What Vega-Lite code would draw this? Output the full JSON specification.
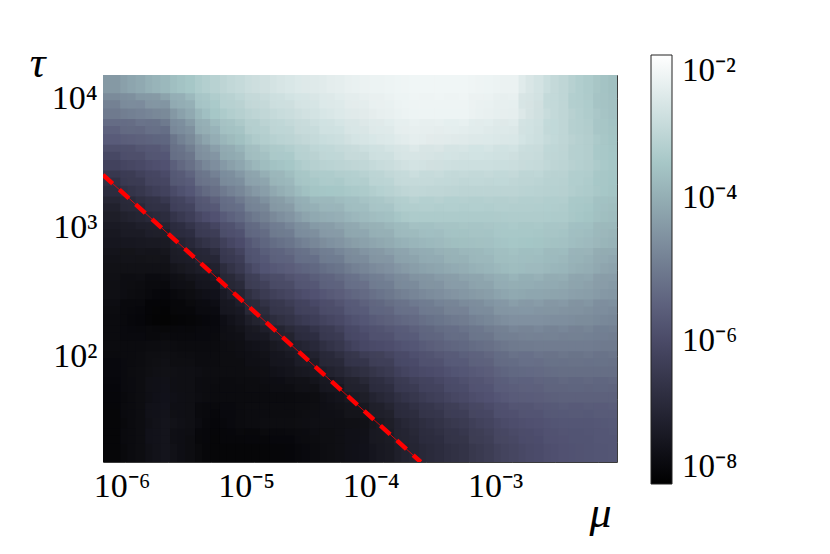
{
  "$schema": "https://vega.github.io/schema/vega-lite/v6.json",
  "width": 514,
  "height": 387,
  "autosize": {"type": "none"},
  "padding": {"left": 103, "top": 75, "right": 213, "bottom": 92},
  "background": "white",
  "config": {
    "view": {"stroke": "#3a3a3a", "strokeWidth": 1},
    "font": "Liberation Serif"
  },
  "datasets": {
    "grid": [
      {"m":-6.05,"t":4.08,"v":-4.4},{"m":-6.05,"t":3.88,"v":-5.0},{"m":-6.05,"t":3.68,"v":-5.6},{"m":-6.05,"t":3.48,"v":-6.2},{"m":-6.05,"t":3.28,"v":-6.8},{"m":-6.05,"t":3.08,"v":-7.2},{"m":-6.05,"t":2.88,"v":-7.4},{"m":-6.05,"t":2.68,"v":-7.55},{"m":-6.05,"t":2.48,"v":-7.6},{"m":-6.05,"t":2.28,"v":-7.7},{"m":-6.05,"t":2.08,"v":-7.7},{"m":-6.05,"t":1.88,"v":-7.75},{"m":-6.05,"t":1.68,"v":-7.8},{"m":-6.05,"t":1.48,"v":-7.85},{"m":-6.05,"t":1.28,"v":-7.85},
      {"m":-5.85,"t":4.08,"v":-4.1},{"m":-5.85,"t":3.88,"v":-4.85},{"m":-5.85,"t":3.68,"v":-5.5},{"m":-5.85,"t":3.48,"v":-6.0},{"m":-5.85,"t":3.28,"v":-6.5},{"m":-5.85,"t":3.08,"v":-7.0},{"m":-5.85,"t":2.88,"v":-7.35},{"m":-5.85,"t":2.68,"v":-7.55},{"m":-5.85,"t":2.48,"v":-7.7},{"m":-5.85,"t":2.28,"v":-7.8},{"m":-5.85,"t":2.08,"v":-7.7},{"m":-5.85,"t":1.88,"v":-7.65},{"m":-5.85,"t":1.68,"v":-7.65},{"m":-5.85,"t":1.48,"v":-7.65},{"m":-5.85,"t":1.28,"v":-7.65},
      {"m":-5.65,"t":4.08,"v":-3.8},{"m":-5.65,"t":3.88,"v":-4.7},{"m":-5.65,"t":3.68,"v":-5.4},{"m":-5.65,"t":3.48,"v":-5.8},{"m":-5.65,"t":3.28,"v":-6.2},{"m":-5.65,"t":3.08,"v":-6.8},{"m":-5.65,"t":2.88,"v":-7.3},{"m":-5.65,"t":2.68,"v":-7.55},{"m":-5.65,"t":2.48,"v":-7.8},{"m":-5.65,"t":2.28,"v":-7.9},{"m":-5.65,"t":2.08,"v":-7.65},{"m":-5.65,"t":1.88,"v":-7.55},{"m":-5.65,"t":1.68,"v":-7.5},{"m":-5.65,"t":1.48,"v":-7.45},{"m":-5.65,"t":1.28,"v":-7.45},
      {"m":-5.45,"t":4.08,"v":-3.5},{"m":-5.45,"t":3.88,"v":-4.1},{"m":-5.45,"t":3.68,"v":-4.7},{"m":-5.45,"t":3.48,"v":-5.2},{"m":-5.45,"t":3.28,"v":-5.7},{"m":-5.45,"t":3.08,"v":-6.3},{"m":-5.45,"t":2.88,"v":-6.9},{"m":-5.45,"t":2.68,"v":-7.3},{"m":-5.45,"t":2.48,"v":-7.65},{"m":-5.45,"t":2.28,"v":-7.85},{"m":-5.45,"t":2.08,"v":-7.7},{"m":-5.45,"t":1.88,"v":-7.6},{"m":-5.45,"t":1.68,"v":-7.6},{"m":-5.45,"t":1.48,"v":-7.6},{"m":-5.45,"t":1.28,"v":-7.65},
      {"m":-5.25,"t":4.08,"v":-3.2},{"m":-5.25,"t":3.88,"v":-3.5},{"m":-5.25,"t":3.68,"v":-4.0},{"m":-5.25,"t":3.48,"v":-4.6},{"m":-5.25,"t":3.28,"v":-5.2},{"m":-5.25,"t":3.08,"v":-5.8},{"m":-5.25,"t":2.88,"v":-6.5},{"m":-5.25,"t":2.68,"v":-7.1},{"m":-5.25,"t":2.48,"v":-7.5},{"m":-5.25,"t":2.28,"v":-7.75},{"m":-5.25,"t":2.08,"v":-7.7},{"m":-5.25,"t":1.88,"v":-7.65},{"m":-5.25,"t":1.68,"v":-7.7},{"m":-5.25,"t":1.48,"v":-7.8},{"m":-5.25,"t":1.28,"v":-7.85},
      {"m":-5.05,"t":4.08,"v":-3.0},{"m":-5.05,"t":3.88,"v":-3.25},{"m":-5.05,"t":3.68,"v":-3.65},{"m":-5.05,"t":3.48,"v":-4.15},{"m":-5.05,"t":3.28,"v":-4.75},{"m":-5.05,"t":3.08,"v":-5.35},{"m":-5.05,"t":2.88,"v":-5.95},{"m":-5.05,"t":2.68,"v":-6.45},{"m":-5.05,"t":2.48,"v":-7.0},{"m":-5.05,"t":2.28,"v":-7.4},{"m":-5.05,"t":2.08,"v":-7.6},{"m":-5.05,"t":1.88,"v":-7.65},{"m":-5.05,"t":1.68,"v":-7.7},{"m":-5.05,"t":1.48,"v":-7.7},{"m":-5.05,"t":1.28,"v":-7.85},
      {"m":-4.85,"t":4.08,"v":-2.8},{"m":-4.85,"t":3.88,"v":-3.05},{"m":-4.85,"t":3.68,"v":-3.3},{"m":-4.85,"t":3.48,"v":-3.7},{"m":-4.85,"t":3.28,"v":-4.3},{"m":-4.85,"t":3.08,"v":-4.9},{"m":-4.85,"t":2.88,"v":-5.4},{"m":-4.85,"t":2.68,"v":-5.75},{"m":-4.85,"t":2.48,"v":-6.4},{"m":-4.85,"t":2.28,"v":-6.95},{"m":-4.85,"t":2.08,"v":-7.45},{"m":-4.85,"t":1.88,"v":-7.6},{"m":-4.85,"t":1.68,"v":-7.7},{"m":-4.85,"t":1.48,"v":-7.65},{"m":-4.85,"t":1.28,"v":-7.85},
      {"m":-4.65,"t":4.08,"v":-2.65},{"m":-4.65,"t":3.88,"v":-2.9},{"m":-4.65,"t":3.68,"v":-3.15},{"m":-4.65,"t":3.48,"v":-3.5},{"m":-4.65,"t":3.28,"v":-3.9},{"m":-4.65,"t":3.08,"v":-4.5},{"m":-4.65,"t":2.88,"v":-5.1},{"m":-4.65,"t":2.68,"v":-5.55},{"m":-4.65,"t":2.48,"v":-6.1},{"m":-4.65,"t":2.28,"v":-6.6},{"m":-4.65,"t":2.08,"v":-7.2},{"m":-4.65,"t":1.88,"v":-7.45},{"m":-4.65,"t":1.68,"v":-7.7},{"m":-4.65,"t":1.48,"v":-7.65},{"m":-4.65,"t":1.28,"v":-7.8},
      {"m":-4.45,"t":4.08,"v":-2.55},{"m":-4.45,"t":3.88,"v":-2.75},{"m":-4.45,"t":3.68,"v":-3.0},{"m":-4.45,"t":3.48,"v":-3.25},{"m":-4.45,"t":3.28,"v":-3.55},{"m":-4.45,"t":3.08,"v":-4.1},{"m":-4.45,"t":2.88,"v":-4.75},{"m":-4.45,"t":2.68,"v":-5.35},{"m":-4.45,"t":2.48,"v":-5.8},{"m":-4.45,"t":2.28,"v":-6.3},{"m":-4.45,"t":2.08,"v":-6.9},{"m":-4.45,"t":1.88,"v":-7.3},{"m":-4.45,"t":1.68,"v":-7.65},{"m":-4.45,"t":1.48,"v":-7.6},{"m":-4.45,"t":1.28,"v":-7.7},
      {"m":-4.25,"t":4.08,"v":-2.45},{"m":-4.25,"t":3.88,"v":-2.6},{"m":-4.25,"t":3.68,"v":-2.85},{"m":-4.25,"t":3.48,"v":-3.15},{"m":-4.25,"t":3.28,"v":-3.5},{"m":-4.25,"t":3.08,"v":-3.95},{"m":-4.25,"t":2.88,"v":-4.5},{"m":-4.25,"t":2.68,"v":-5.1},{"m":-4.25,"t":2.48,"v":-5.55},{"m":-4.25,"t":2.28,"v":-6.0},{"m":-4.25,"t":2.08,"v":-6.5},{"m":-4.25,"t":1.88,"v":-7.0},{"m":-4.25,"t":1.68,"v":-7.45},{"m":-4.25,"t":1.48,"v":-7.6},{"m":-4.25,"t":1.28,"v":-7.6},
      {"m":-4.05,"t":4.08,"v":-2.35},{"m":-4.05,"t":3.88,"v":-2.5},{"m":-4.05,"t":3.68,"v":-2.7},{"m":-4.05,"t":3.48,"v":-3.05},{"m":-4.05,"t":3.28,"v":-3.4},{"m":-4.05,"t":3.08,"v":-3.75},{"m":-4.05,"t":2.88,"v":-4.25},{"m":-4.05,"t":2.68,"v":-4.8},{"m":-4.05,"t":2.48,"v":-5.3},{"m":-4.05,"t":2.28,"v":-5.7},{"m":-4.05,"t":2.08,"v":-6.05},{"m":-4.05,"t":1.88,"v":-6.7},{"m":-4.05,"t":1.68,"v":-7.2},{"m":-4.05,"t":1.48,"v":-7.55},{"m":-4.05,"t":1.28,"v":-7.5},
      {"m":-3.85,"t":4.08,"v":-2.3},{"m":-3.85,"t":3.88,"v":-2.4},{"m":-3.85,"t":3.68,"v":-2.6},{"m":-3.85,"t":3.48,"v":-2.9},{"m":-3.85,"t":3.28,"v":-3.2},{"m":-3.85,"t":3.08,"v":-3.6},{"m":-3.85,"t":2.88,"v":-4.05},{"m":-3.85,"t":2.68,"v":-4.55},{"m":-3.85,"t":2.48,"v":-5.05},{"m":-3.85,"t":2.28,"v":-5.5},{"m":-3.85,"t":2.08,"v":-5.9},{"m":-3.85,"t":1.88,"v":-6.4},{"m":-3.85,"t":1.68,"v":-6.85},{"m":-3.85,"t":1.48,"v":-7.2},{"m":-3.85,"t":1.28,"v":-7.3},
      {"m":-3.65,"t":4.08,"v":-2.25},{"m":-3.65,"t":3.88,"v":-2.3},{"m":-3.65,"t":3.68,"v":-2.45},{"m":-3.65,"t":3.48,"v":-2.75},{"m":-3.65,"t":3.28,"v":-3.05},{"m":-3.65,"t":3.08,"v":-3.4},{"m":-3.65,"t":2.88,"v":-3.85},{"m":-3.65,"t":2.68,"v":-4.3},{"m":-3.65,"t":2.48,"v":-4.8},{"m":-3.65,"t":2.28,"v":-5.3},{"m":-3.65,"t":2.08,"v":-5.7},{"m":-3.65,"t":1.88,"v":-6.05},{"m":-3.65,"t":1.68,"v":-6.5},{"m":-3.65,"t":1.48,"v":-6.85},{"m":-3.65,"t":1.28,"v":-7.0},
      {"m":-3.45,"t":4.08,"v":-2.25},{"m":-3.45,"t":3.88,"v":-2.3},{"m":-3.45,"t":3.68,"v":-2.5},{"m":-3.45,"t":3.48,"v":-2.8},{"m":-3.45,"t":3.28,"v":-3.1},{"m":-3.45,"t":3.08,"v":-3.4},{"m":-3.45,"t":2.88,"v":-3.75},{"m":-3.45,"t":2.68,"v":-4.15},{"m":-3.45,"t":2.48,"v":-4.6},{"m":-3.45,"t":2.28,"v":-5.1},{"m":-3.45,"t":2.08,"v":-5.5},{"m":-3.45,"t":1.88,"v":-5.9},{"m":-3.45,"t":1.68,"v":-6.25},{"m":-3.45,"t":1.48,"v":-6.6},{"m":-3.45,"t":1.28,"v":-6.8},
      {"m":-3.25,"t":4.08,"v":-2.25},{"m":-3.25,"t":3.88,"v":-2.3},{"m":-3.25,"t":3.68,"v":-2.55},{"m":-3.25,"t":3.48,"v":-2.85},{"m":-3.25,"t":3.28,"v":-3.15},{"m":-3.25,"t":3.08,"v":-3.4},{"m":-3.25,"t":2.88,"v":-3.65},{"m":-3.25,"t":2.68,"v":-4.0},{"m":-3.25,"t":2.48,"v":-4.45},{"m":-3.25,"t":2.28,"v":-4.95},{"m":-3.25,"t":2.08,"v":-5.35},{"m":-3.25,"t":1.88,"v":-5.7},{"m":-3.25,"t":1.68,"v":-6.0},{"m":-3.25,"t":1.48,"v":-6.4},{"m":-3.25,"t":1.28,"v":-6.6},
      {"m":-3.05,"t":4.08,"v":-2.3},{"m":-3.05,"t":3.88,"v":-2.4},{"m":-3.05,"t":3.68,"v":-2.6},{"m":-3.05,"t":3.48,"v":-2.85},{"m":-3.05,"t":3.28,"v":-3.15},{"m":-3.05,"t":3.08,"v":-3.4},{"m":-3.05,"t":2.88,"v":-3.6},{"m":-3.05,"t":2.68,"v":-3.85},{"m":-3.05,"t":2.48,"v":-4.3},{"m":-3.05,"t":2.28,"v":-4.75},{"m":-3.05,"t":2.08,"v":-5.2},{"m":-3.05,"t":1.88,"v":-5.55},{"m":-3.05,"t":1.68,"v":-5.8},{"m":-3.05,"t":1.48,"v":-6.15},{"m":-3.05,"t":1.28,"v":-6.35},
      {"m":-2.85,"t":4.08,"v":-2.35},{"m":-2.85,"t":3.88,"v":-2.45},{"m":-2.85,"t":3.68,"v":-2.65},{"m":-2.85,"t":3.48,"v":-2.9},{"m":-2.85,"t":3.28,"v":-3.15},{"m":-2.85,"t":3.08,"v":-3.35},{"m":-2.85,"t":2.88,"v":-3.5},{"m":-2.85,"t":2.68,"v":-3.7},{"m":-2.85,"t":2.48,"v":-4.1},{"m":-2.85,"t":2.28,"v":-4.55},{"m":-2.85,"t":2.08,"v":-5.0},{"m":-2.85,"t":1.88,"v":-5.35},{"m":-2.85,"t":1.68,"v":-5.6},{"m":-2.85,"t":1.48,"v":-5.9},{"m":-2.85,"t":1.28,"v":-6.1},
      {"m":-2.65,"t":4.08,"v":-2.75},{"m":-2.65,"t":3.88,"v":-2.8},{"m":-2.65,"t":3.68,"v":-2.85},{"m":-2.65,"t":3.48,"v":-3.0},{"m":-2.65,"t":3.28,"v":-3.2},{"m":-2.65,"t":3.08,"v":-3.35},{"m":-2.65,"t":2.88,"v":-3.55},{"m":-2.65,"t":2.68,"v":-3.75},{"m":-2.65,"t":2.48,"v":-4.15},{"m":-2.65,"t":2.28,"v":-4.55},{"m":-2.65,"t":2.08,"v":-4.95},{"m":-2.65,"t":1.88,"v":-5.3},{"m":-2.65,"t":1.68,"v":-5.55},{"m":-2.65,"t":1.48,"v":-5.8},{"m":-2.65,"t":1.28,"v":-5.95},
      {"m":-2.45,"t":4.08,"v":-3.1},{"m":-2.45,"t":3.88,"v":-3.1},{"m":-2.45,"t":3.68,"v":-3.1},{"m":-2.45,"t":3.48,"v":-3.15},{"m":-2.45,"t":3.28,"v":-3.25},{"m":-2.45,"t":3.08,"v":-3.4},{"m":-2.45,"t":2.88,"v":-3.6},{"m":-2.45,"t":2.68,"v":-3.85},{"m":-2.45,"t":2.48,"v":-4.2},{"m":-2.45,"t":2.28,"v":-4.6},{"m":-2.45,"t":2.08,"v":-4.95},{"m":-2.45,"t":1.88,"v":-5.25},{"m":-2.45,"t":1.68,"v":-5.5},{"m":-2.45,"t":1.48,"v":-5.7},{"m":-2.45,"t":1.28,"v":-5.8},
      {"m":-2.25,"t":4.08,"v":-3.4},{"m":-2.25,"t":3.88,"v":-3.35},{"m":-2.25,"t":3.68,"v":-3.3},{"m":-2.25,"t":3.48,"v":-3.3},{"m":-2.25,"t":3.28,"v":-3.4},{"m":-2.25,"t":3.08,"v":-3.55},{"m":-2.25,"t":2.88,"v":-3.75},{"m":-2.25,"t":2.68,"v":-4.0},{"m":-2.25,"t":2.48,"v":-4.3},{"m":-2.25,"t":2.28,"v":-4.65},{"m":-2.25,"t":2.08,"v":-4.95},{"m":-2.25,"t":1.88,"v":-5.25},{"m":-2.25,"t":1.68,"v":-5.5},{"m":-2.25,"t":1.48,"v":-5.7},{"m":-2.25,"t":1.28,"v":-5.75},
      {"m":-2.05,"t":4.08,"v":-3.65},{"m":-2.05,"t":3.88,"v":-3.6},{"m":-2.05,"t":3.68,"v":-3.55},{"m":-2.05,"t":3.48,"v":-3.5},{"m":-2.05,"t":3.28,"v":-3.55},{"m":-2.05,"t":3.08,"v":-3.7},{"m":-2.05,"t":2.88,"v":-3.9},{"m":-2.05,"t":2.68,"v":-4.2},{"m":-2.05,"t":2.48,"v":-4.45},{"m":-2.05,"t":2.28,"v":-4.75},{"m":-2.05,"t":2.08,"v":-5.0},{"m":-2.05,"t":1.88,"v":-5.25},{"m":-2.05,"t":1.68,"v":-5.5},{"m":-2.05,"t":1.48,"v":-5.65},{"m":-2.05,"t":1.28,"v":-5.7}
    ],
    "line": [
      {"m": -6.15, "t": 3.406},
      {"m": -3.597, "t": 1.18}
    ]
  },
  "layer": [
    {
      "data": {"name": "grid"},
      "mark": {"type": "rect", "width": 26, "height": 27, "clip": true},
      "encoding": {
        "x": {
          "field": "m", "type": "quantitative",
          "scale": {"domain": [-6.15, -2.02], "nice": false, "zero": false},
          "axis": {
            "orient": "bottom",
            "title": "μ",
            "titleFont": "Liberation Serif", "titleFontStyle": "italic", "titleFontWeight": "normal", "titleFontSize": 44,
            "titleAngle": 0, "titleX": 497, "titleY": 64, "titleAlign": "center", "titleBaseline": "alphabetic",
            "titleColor": "black",
            "values": [-6, -5, -4, -3, -5.97, -5.625, -5.28, -4.935, -4.59, -4.245, -3.9, -3.555, -3.21, -2.865, -2.52, -2.175],
            "labelExpr": "datum.value === -6 ? '10⁻⁶' : datum.value === -5 ? '10⁻⁵' : datum.value === -4 ? '10⁻⁴' : datum.value === -3 ? '10⁻³' : ''",
            "labelFont": "Liberation Serif", "labelFontSize": 34, "labelColor": "black",
            "labelPadding": 11, "labelOverlap": false, "labelFlush": false,
            "domain": false, "grid": false,
            "tickSize": -4, "tickColor": "#555", "tickWidth": 1,
            "tickOpacity": {"condition": {"test": "datum.value % 1 === 0", "value": 0}, "value": 1}
          }
        },
        "y": {
          "field": "t", "type": "quantitative",
          "scale": {"domain": [1.18, 4.18], "nice": false, "zero": false},
          "axis": {
            "orient": "left",
            "title": "τ",
            "titleFont": "Liberation Serif", "titleFontStyle": "italic", "titleFontWeight": "normal", "titleFontSize": 44,
            "titleAngle": 0, "titleX": -66, "titleY": -12, "titleAlign": "center", "titleBaseline": "middle",
            "titleColor": "black",
            "values": [4, 3.6667, 3.3333, 3, 2.6667, 2.3333, 2, 1.6667, 1.3333],
            "labelExpr": "datum.value === 4 ? '10⁴' : datum.value === 3 ? '10³' : datum.value === 2 ? '10²' : ''",
            "labelFont": "Liberation Serif", "labelFontSize": 34, "labelColor": "black",
            "labelPadding": 10, "labelOverlap": false, "labelFlush": false,
            "domain": false, "grid": false,
            "tickSize": -4, "tickColor": "#555", "tickWidth": 1
          }
        },
        "color": {
          "field": "v", "type": "quantitative",
          "scale": {
            "domain": [-8, -5.8095, -3.5238, -2],
            "range": ["#000000", "#515171", "#a6c6c6", "#ffffff"],
            "interpolate": "rgb",
            "clamp": true
          },
          "legend": {
            "orient": "none",
            "legendX": 548,
            "legendY": -20,
            "direction": "vertical",
            "title": null,
            "padding": 0,
            "gradientLength": 429,
            "gradientThickness": 21,
            "gradientStrokeColor": "#222",
            "gradientStrokeWidth": 1,
            "values": [-8, -6, -4, -2],
            "labelExpr": "datum.value === -8 ? '10⁻⁸' : datum.value === -6 ? '10⁻⁶' : datum.value === -4 ? '10⁻⁴' : '10⁻²'",
            "labelFont": "Liberation Serif",
            "labelFontSize": 33,
            "labelColor": "black",
            "labelOffset": 10,
            "labelBaseline": "middle",
            "labelOverlap": false
          }
        }
      }
    },
    {
      "data": {"name": "grid"},
      "mark": {"type": "rect", "width": 40, "height": 41, "opacity": 0.45, "clip": true},
      "encoding": {
        "x": {"field": "m", "type": "quantitative", "scale": {"domain": [-6.15, -2.02], "nice": false, "zero": false}, "axis": null},
        "y": {"field": "t", "type": "quantitative", "scale": {"domain": [1.18, 4.18], "nice": false, "zero": false}, "axis": null},
        "color": {"field": "v", "type": "quantitative", "legend": null}
      }
    },
    {
      "data": {"name": "line"},
      "mark": {"type": "line", "color": "#ff0000", "strokeWidth": 0.8, "clip": true},
      "encoding": {
        "x": {"field": "m", "type": "quantitative", "scale": {"domain": [-6.15, -2.02], "nice": false, "zero": false}, "axis": null},
        "y": {"field": "t", "type": "quantitative", "scale": {"domain": [1.18, 4.18], "nice": false, "zero": false}, "axis": null}
      }
    },
    {
      "data": {"name": "line"},
      "mark": {"type": "line", "color": "#ff0000", "strokeWidth": 4.5, "strokeDash": [13, 9], "clip": true},
      "encoding": {
        "x": {
          "field": "m", "type": "quantitative",
          "scale": {"domain": [-6.15, -2.02], "nice": false, "zero": false},
          "axis": {
            "orient": "top", "title": null, "labels": false, "domain": false, "grid": false,
            "values": [-5.97, -5.625, -5.28, -4.935, -4.59, -4.245, -3.9, -3.555, -3.21, -2.865, -2.52, -2.175],
            "tickSize": -4, "tickColor": "#555", "tickWidth": 1
          }
        },
        "y": {
          "field": "t", "type": "quantitative",
          "scale": {"domain": [1.18, 4.18], "nice": false, "zero": false},
          "axis": {
            "orient": "right", "title": null, "labels": false, "domain": false, "grid": false,
            "values": [4, 3.6667, 3.3333, 3, 2.6667, 2.3333, 2, 1.6667, 1.3333],
            "tickSize": -4, "tickColor": "#555", "tickWidth": 1
          }
        }
      }
    }
  ],
  "resolve": {"axis": {"x": "independent", "y": "independent"}}
}
